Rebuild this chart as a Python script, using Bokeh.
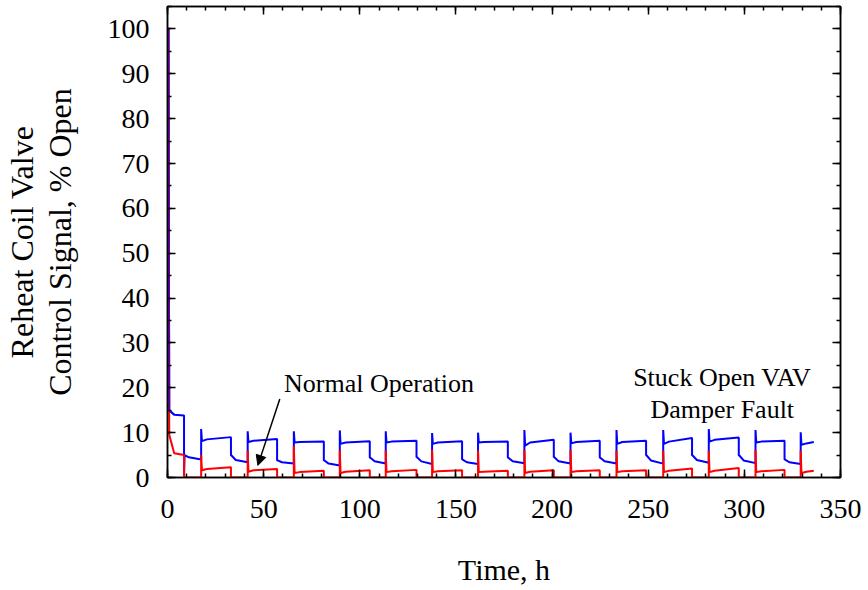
from bokeh.plotting import figure
from bokeh.models import LinearAxis, SingleIntervalTicker, Label, Arrow, NormalHead, Range1d
from bokeh.embed import file_html
from bokeh.resources import INLINE

# ---- data (time in h, signal in % open) ----
# occupied-mode periods: start and end times
occ_on = [0.5, 17.5, 41.7, 65.7, 89.6, 113.5, 137.6, 161.5, 185.6, 209.6, 233.5, 257.8, 281.5, 305.8, 329.3]
occ_off = [8.6, 33.0, 57.0, 81.3, 105.2, 129.5, 153.2, 177.0, 200.9, 224.8, 248.9, 272.8, 297.1, 320.9, 336.1]

# Stuck open VAV damper fault (blue) - occupied periods
blue_spike = [100.0, 10.8, 10.3, 10.3, 10.5, 10.3, 9.9, 10.0, 10.6, 10.0, 10.6, 10.6, 10.8, 10.6, 10.1]
blue_occ_first = [15.0, 8.1, 7.9, 7.8, 7.5, 7.8, 7.5, 7.8, 7.1, 7.6, 7.5, 7.5, 8.0, 7.8, 7.3]
blue_occ_knee = [14.0, 8.5, 8.2, 7.9, 7.8, 8.0, 7.8, 7.9, 7.8, 7.9, 7.9, 8.0, 8.4, 8.0, 7.6]
blue_occ_last = [13.8, 9.0, 8.6, 8.0, 8.1, 8.2, 8.1, 8.0, 8.4, 8.2, 8.2, 8.8, 8.9, 8.2, 7.9]
# Stuck open VAV damper fault (blue) - unoccupied periods
blue_drop_low = [0.3, 4.9, 3.8, 3.8, 4.4, 4.5, 4.0, 4.4, 4.5, 4.4, 4.9, 4.9, 4.9, 4.0]
blue_unocc_first = [5.0, 4.9, 3.8, 3.8, 4.4, 4.5, 4.0, 4.4, 4.5, 4.4, 4.9, 4.9, 4.9, 4.0]
blue_unocc_knee = [4.5, 3.9, 3.4, 3.1, 3.6, 3.6, 3.4, 3.6, 3.6, 3.6, 3.8, 3.9, 3.8, 3.4]
blue_unocc_last = [4.0, 3.4, 3.1, 2.7, 3.1, 3.0, 3.0, 3.2, 3.1, 3.1, 3.1, 3.3, 3.2, 3.0]

# Normal operation (red) - occupied periods (0 when unoccupied)
red_spike = [100.0, 5.0, 6.0, 7.0, 6.2, 6.0, 6.2, 6.0, 6.2, 6.2, 6.0, 6.0, 6.0, 6.2, 6.0]
red_occ_first = [9.5, 1.6, 1.3, 1.0, 1.0, 1.2, 1.2, 1.2, 1.0, 1.2, 1.2, 1.2, 1.2, 1.2, 1.0]
red_occ_knee = [5.4, 1.9, 1.6, 1.2, 1.3, 1.4, 1.4, 1.3, 1.3, 1.4, 1.4, 1.5, 1.5, 1.4, 1.3]
red_occ_last = [5.0, 2.3, 1.9, 1.5, 1.6, 1.7, 1.6, 1.5, 1.6, 1.6, 1.6, 2.0, 2.1, 1.7, 1.5]

x_ticks_interval = 50
y_ticks_interval = 10
x_label = "Time, h"
y_label = "Reheat Coil Valve\nControl Signal, % Open"
note_normal = "Normal Operation"
note_fault_1 = "Stuck Open VAV"
note_fault_2 = "Damper Fault"

# ---- build the line paths from the read values ----
blue_t, blue_v, red_t, red_v = [], [], [], []
n = len(occ_on)
for i in range(n):
    on, off = occ_on[i], occ_off[i]
    if i > 0:
        blue_t.append(on)
        blue_v.append(blue_unocc_last[i - 1])
        red_t.append(on)
        red_v.append(0.0)
    blue_t += [on, on + 0.4, on + 3.0, off]
    blue_v += [blue_spike[i], blue_occ_first[i], blue_occ_knee[i], blue_occ_last[i]]
    red_t += [on, on + 0.4, on + 3.0, off]
    red_v += [red_spike[i], red_occ_first[i], red_occ_knee[i], red_occ_last[i]]
    if i < n - 1:
        blue_t += [off, off + 0.3, off + 2.5]
        blue_v += [blue_drop_low[i], blue_unocc_first[i], blue_unocc_knee[i]]
        red_t.append(off)
        red_v.append(0.0)

FONT = "Liberation Serif"

p = figure(width=868, height=590, output_backend="svg", toolbar_location=None,
           x_range=Range1d(0, 350), y_range=Range1d(0, 105),
           min_border_left=167, min_border_right=28, min_border_top=6, min_border_bottom=113)
p.background_fill_color = "white"
p.border_fill_color = "white"
p.outline_line_color = "black"
p.outline_line_width = 1.5
p.xgrid.visible = False
p.ygrid.visible = False

xticker = SingleIntervalTicker(interval=x_ticks_interval, num_minor_ticks=5)
yticker = SingleIntervalTicker(interval=y_ticks_interval, num_minor_ticks=2)


def style(ax):
    ax.major_tick_in = 8
    ax.major_tick_out = 0
    ax.minor_tick_in = 4
    ax.minor_tick_out = 0
    ax.axis_line_color = "black"
    ax.axis_line_width = 1.5
    ax.major_tick_line_color = "black"
    ax.major_tick_line_width = 1.5
    ax.minor_tick_line_color = "black"
    ax.minor_tick_line_width = 1.5
    ax.major_label_text_font = FONT
    ax.major_label_text_font_size = "28px"
    ax.major_label_text_color = "black"
    ax.axis_label_text_font = FONT
    ax.axis_label_text_font_style = "normal"
    ax.axis_label_text_color = "black"


def tick_only(ax):
    style(ax)
    ax.major_label_text_font_size = "1px"
    ax.major_label_text_color = None
    ax.major_label_standoff = 0


xa = p.xaxis[0]
xa.ticker = xticker
style(xa)
xa.major_label_standoff = 22
xa.axis_label = x_label
xa.axis_label_text_font_size = "30px"
xa.axis_label_standoff = 32

ya = p.yaxis[0]
ya.ticker = yticker
style(ya)
ya.major_label_standoff = 18
ya.axis_label = y_label
ya.axis_label_text_font_size = "32px"
ya.axis_label_text_line_height = 1.05
ya.axis_label_standoff = 27

top = LinearAxis(ticker=xticker)
tick_only(top)
p.add_layout(top, "above")

right = LinearAxis(ticker=yticker)
tick_only(right)
p.add_layout(right, "right")

p.line(blue_t, blue_v, line_color="#0000ff", line_width=2)
p.line(red_t, red_v, line_color="#ff0000", line_width=2)
# the start-up spike of both series overlaps: blue drawn over red, blended
p.line(blue_t[:3], blue_v[:3], line_color="#0000ff", line_width=2, line_alpha=0.65)

p.add_layout(Label(x=110, y=21, text=note_normal, text_font=FONT, text_font_size="26px",
                   text_align="center", text_baseline="middle", text_color="black"))
p.add_layout(Label(x=288.5, y=22.3, text=note_fault_1, text_font=FONT, text_font_size="26px",
                   text_align="center", text_baseline="middle", text_color="black"))
p.add_layout(Label(x=288.5, y=15.1, text=note_fault_2, text_font=FONT, text_font_size="26px",
                   text_align="center", text_baseline="middle", text_color="black"))
p.add_layout(Arrow(end=NormalHead(size=10, fill_color="black", line_color="black"),
                   x_start=58.4, y_start=17.5, x_end=47.0, y_end=2.7,
                   line_color="black", line_width=1.5))

open("out.html", "w").write(file_html(p, INLINE))
